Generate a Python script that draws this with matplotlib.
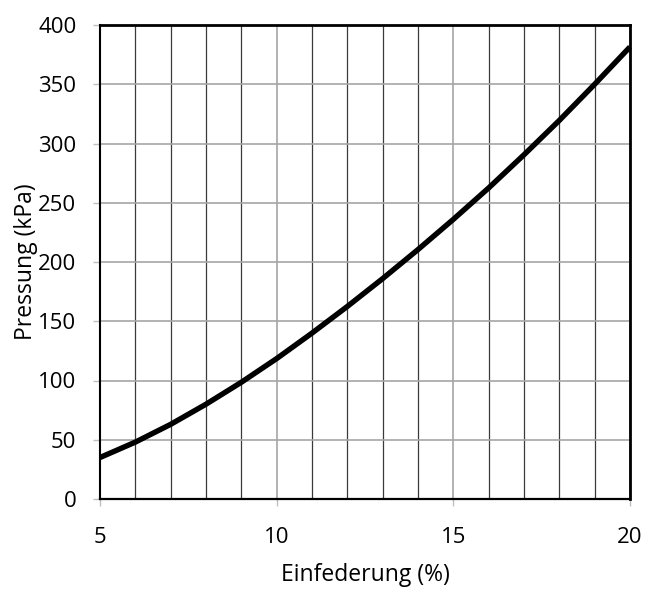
import matplotlib
matplotlib.use("Agg")
import matplotlib.pyplot as plt
from matplotlib.ticker import MultipleLocator

# Einfederung (%) vs. Pressung (kPa)
einfederung = [5, 6, 7, 8, 9, 10, 11, 12, 13, 14, 15, 16, 17, 18, 19, 20]
pressung = [35, 48, 63, 80, 98.5, 118.5, 140, 162.5, 186, 210.5, 236, 262.5,
            290.5, 319.5, 350, 381.5]

x_ticks = [5, 10, 15, 20]
y_ticks = [0, 50, 100, 150, 200, 250, 300, 350, 400]

plt.rcParams["font.family"] = ["Open Sans", "DejaVu Sans"]

fig = plt.figure(figsize=(6.45, 5.9), dpi=100)
ax = fig.add_axes([100 / 645, 91 / 590, 530 / 645, 474 / 590])

ax.plot(einfederung, pressung, color="black", lw=3.9, solid_capstyle="butt",
        zorder=4, clip_on=False)

ax.set_xlim(5, 20)
ax.set_ylim(0, 400)
ax.set_xticks(x_ticks)
ax.set_yticks(y_ticks)
ax.xaxis.set_minor_locator(MultipleLocator(1))

ax.grid(True, which="major", axis="both", color="#a6a6a6", lw=1.2)
ax.grid(True, which="minor", axis="x", color="#3a3a3a", lw=0.9)
ax.set_axisbelow(True)

ax.tick_params(which="major", direction="out", length=5, width=1,
               color="#bfbfbf", labelsize=16, pad=12)
ax.tick_params(axis="x", pad=15)
ax.tick_params(which="minor", length=0)

for side, lw in [("top", 2.0), ("right", 2.0), ("left", 1.5), ("bottom", 1.6)]:
    ax.spines[side].set_linewidth(lw)
    ax.spines[side].set_color("black")
    ax.spines[side].set_zorder(5)

ax.set_xlabel("Einfederung (%)", fontsize=16.5, labelpad=11)
ax.set_ylabel("Pressung (kPa)", fontsize=16.5, labelpad=0)

fig.savefig("out.png", dpi=100)
